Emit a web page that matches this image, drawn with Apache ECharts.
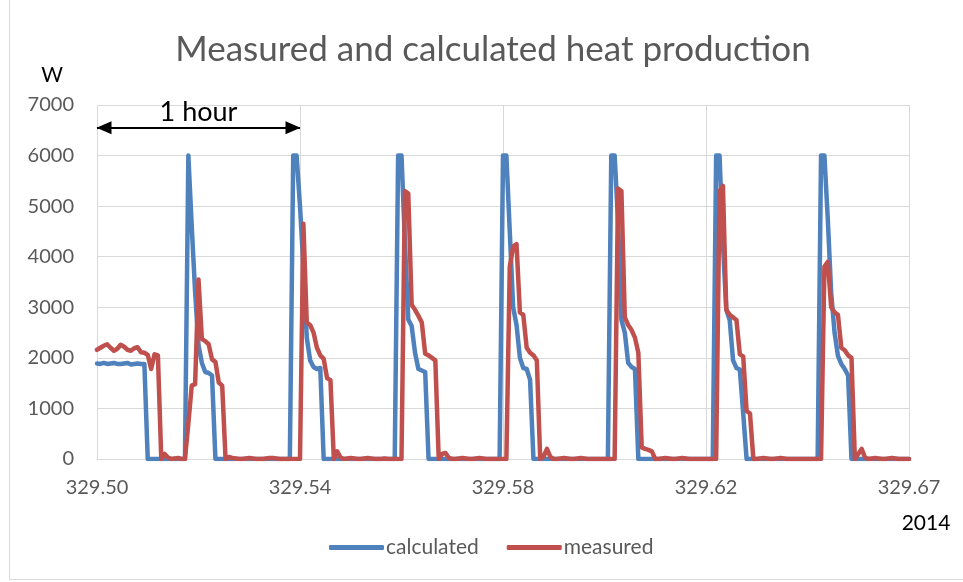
<!DOCTYPE html>
<html>
<head>
<meta charset="utf-8">
<script src="https://cdn.jsdelivr.net/npm/echarts@6/dist/echarts.min.js"></script>
<style>
  html, body { margin: 0; padding: 0; background: #ffffff; }
  #chart { width: 963px; height: 582px; }
</style>
</head>
<body>
<div id="chart"></div>
<script>
// One sample per minute, starting at day 329.50 of 2014 (241 samples = 4 hours)
const minutes = Array.from({ length: 241 }, (_, i) => i);

// Day-of-year tick labels, one every 60 minutes
const xTickLabels = ['329.50', '329.54', '329.58', '329.62', '329.67'];
const TICK_STEP = 60;

// Calculated heat production, W
const calculated = [
  1890,1880,1900,1880,1890,1900,1880,1880,1890,1900,
  1870,1880,1890,1880,1880,0,0,0,0,0,
  0,0,0,0,0,0,0,6000,4600,3300,
  2250,1900,1720,1700,1650,0,0,0,0,0,
  0,0,0,0,0,0,0,0,0,0,
  0,0,0,0,0,0,0,0,6000,6000,
  5000,3800,2400,1950,1820,1780,1800,0,0,0,
  0,0,0,0,0,0,0,0,0,0,
  0,0,0,0,0,0,0,0,0,6000,
  6000,4300,2760,2630,2100,1780,1750,1720,0,0,
  0,0,0,0,0,0,0,0,0,0,
  0,0,0,0,0,0,0,0,0,0,
  6000,6000,4500,3000,2650,2000,1800,1780,1570,0,
  0,0,0,0,0,0,0,0,0,0,
  0,0,0,0,0,0,0,0,0,0,
  0,0,6000,6000,4700,2750,2500,1900,1820,1780,
  0,0,0,0,0,0,0,0,0,0,
  0,0,0,0,0,0,0,0,0,0,
  0,0,0,6000,6000,4260,2950,2750,1950,1800,
  1770,900,0,0,0,0,0,0,0,0,
  0,0,0,0,0,0,0,0,0,0,
  0,0,0,0,6000,6000,4740,3290,2500,2040,
  1880,1780,1650,0,0,0,0,0,0,0,
  0,0,0,0,0,0,0,0,0,0,
  0
];

// Measured heat production, W
const measured = [
  2160,2200,2240,2270,2200,2140,2180,2260,2220,2160,
  2140,2190,2210,2110,2100,2060,1780,2070,2050,0,
  100,30,0,10,20,0,0,700,1450,1480,
  3550,2370,2330,2270,1970,1920,1510,1450,0,40,
  20,10,0,0,10,20,10,0,0,0,
  10,20,20,10,0,0,0,0,0,0,
  0,4650,2700,2650,2500,2200,2050,1980,1600,1560,
  0,150,30,0,10,20,10,0,0,10,
  20,10,0,0,0,10,0,0,0,0,
  0,5300,5250,3050,2950,2830,2700,2080,2050,2000,
  1950,0,100,120,20,0,0,10,20,10,
  0,0,10,20,10,0,0,0,0,0,
  0,0,3800,4200,4250,2900,2850,2200,2100,2050,
  1950,0,50,200,40,0,0,10,20,10,
  0,0,10,20,10,0,0,0,0,0,
  0,0,0,0,5350,5300,2800,2650,2550,2400,
  2100,230,200,180,150,0,0,10,20,10,
  0,0,10,20,10,0,0,0,0,0,
  0,0,0,0,5300,5400,2950,2850,2800,2750,
  2070,2030,950,900,0,0,10,20,10,0,
  0,10,20,10,0,0,0,0,0,0,
  0,0,0,0,0,3800,3900,3000,2900,2850,
  2200,2150,2050,2000,0,100,200,30,0,10,
  20,10,0,0,10,20,10,0,0,0,
  0
];

// "1 hour" span marker: from the first sample to 60 minutes later
const hourSpan = { start: 0, end: 60, level: 6550, text: '1 hour' };

const FONT = 'Lato, "Open Sans", "Liberation Sans", sans-serif';
const GREY_TEXT = '#595959';
const GRID_LINE = '#d9d9d9';

const chart = echarts.init(document.getElementById('chart'), null, { renderer: 'canvas' });

chart.setOption({
  animation: false,
  backgroundColor: '#ffffff',
  textStyle: { fontFamily: FONT },
  title: [
    {
      text: 'Measured and calculated heat production',
      left: 488, top: 27, textAlign: 'center',
      textStyle: { fontFamily: FONT, fontSize: 35, fontWeight: 'normal', color: GREY_TEXT }
    },
    {
      text: 'W',
      left: 47, top: 60, textAlign: 'center',
      textStyle: { fontFamily: FONT, fontSize: 21, fontWeight: 'normal', color: '#000000' }
    },
    {
      text: '2014',
      left: 921, top: 508, textAlign: 'center',
      textStyle: { fontFamily: FONT, fontSize: 21, fontWeight: 'normal', color: '#000000' }
    }
  ],
  legend: {
    data: ['calculated', 'measured'],
    left: 324, top: 532,
    icon: 'roundRect',
    itemWidth: 55, itemHeight: 5,
    itemGap: 28,
    textStyle: { fontFamily: FONT, fontSize: 21, color: GREY_TEXT, padding: [0, 0, 0, -3] }
  },
  grid: { left: 97, right: 54, top: 105, bottom: 123, containLabel: false },
  xAxis: {
    type: 'category',
    data: minutes,
    boundaryGap: false,
    axisLine: { show: true, lineStyle: { color: GRID_LINE, width: 1 } },
    axisTick: { show: false },
    axisLabel: {
      interval: (idx) => idx % TICK_STEP === 0,
      formatter: (v, idx) => xTickLabels[Math.round(idx / TICK_STEP)],
      color: GREY_TEXT, fontSize: 20, fontFamily: FONT, margin: 19,
      showMaxLabel: true
    },
    splitLine: {
      show: true,
      interval: (idx) => idx % TICK_STEP === 0,
      lineStyle: { color: GRID_LINE, width: 1 }
    }
  },
  yAxis: {
    type: 'value',
    min: 0, max: 7000, interval: 1000,
    axisLine: { show: false },
    axisTick: { show: false },
    axisLabel: {
      color: GREY_TEXT, fontSize: 20, fontFamily: FONT, margin: 23,
      formatter: (v) => String(v)
    },
    splitLine: { show: true, lineStyle: { color: GRID_LINE, width: 1 } }
  },
  series: [
    {
      name: 'calculated',
      type: 'line',
      data: calculated,
      showSymbol: false,
      symbol: 'none',
      lineStyle: { color: '#4f81bd', width: 4.5, join: 'round', cap: 'round' },
      itemStyle: { color: '#4f81bd' },
      z: 2,
      markLine: {
        silent: true,
        symbol: ['triangle', 'triangle'],
        symbolSize: [13, 15],
        symbolOffset: [[0, 7], [0, 7]],
        lineStyle: { color: '#000000', width: 2, type: 'solid' },
        label: {
          show: true,
          position: 'insideMiddleTop',
          formatter: hourSpan.text,
          color: '#000000', fontSize: 27, fontFamily: FONT, distance: 2
        },
        data: [[
          { coord: [hourSpan.start, hourSpan.level] },
          { coord: [hourSpan.end, hourSpan.level] }
        ]]
      }
    },
    {
      name: 'measured',
      type: 'line',
      data: measured,
      showSymbol: false,
      symbol: 'none',
      lineStyle: { color: '#c0504d', width: 4.5, join: 'round', cap: 'round' },
      itemStyle: { color: '#c0504d' },
      z: 3
    }
  ],
  graphic: [
    {
      type: 'rect',
      silent: true,
      shape: { x: 9.5, y: -5, width: 970, height: 584.5 },
      style: { fill: 'none', stroke: '#d9d9d9', lineWidth: 1 }
    }
  ]
});
</script>
</body>
</html>
